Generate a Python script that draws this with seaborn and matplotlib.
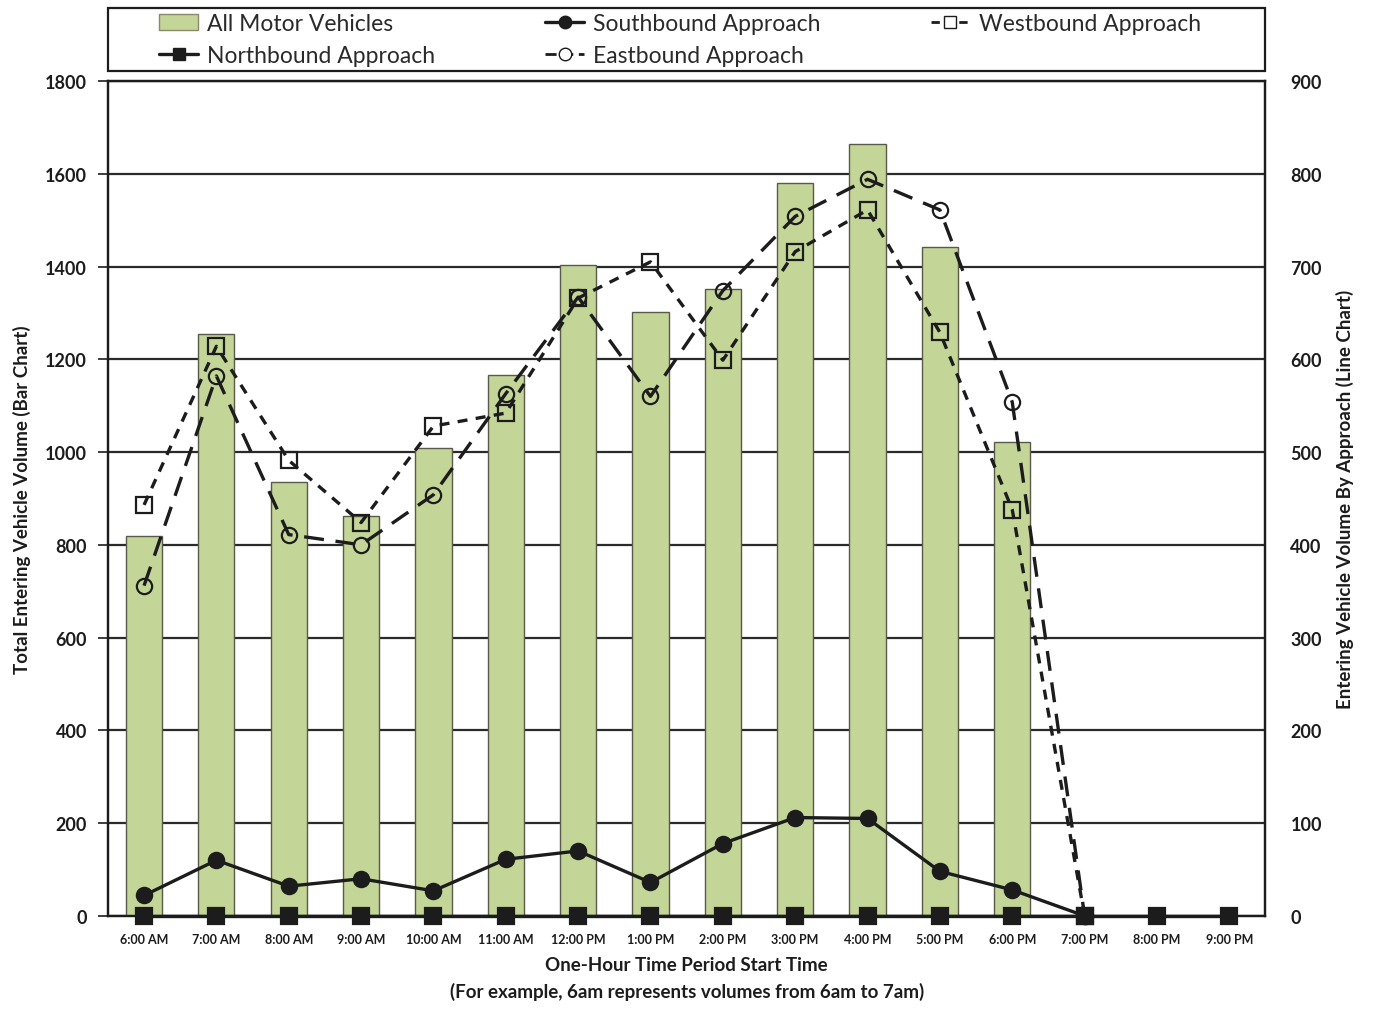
import numpy as np
import pandas as pd
import matplotlib
matplotlib.use("Agg")
import matplotlib.pyplot as plt
import seaborn as sns
from matplotlib.patches import Patch, Rectangle
from matplotlib.lines import Line2D

# Hourly volumes
hours = ["6:00 AM", "7:00 AM", "8:00 AM", "9:00 AM", "10:00 AM", "11:00 AM",
         "12:00 PM", "1:00 PM", "2:00 PM", "3:00 PM", "4:00 PM", "5:00 PM",
         "6:00 PM", "7:00 PM", "8:00 PM", "9:00 PM"]
all_vehicles = [820, 1255, 935, 862, 1009, 1166, 1403, 1302, 1352, 1580,
                1664, 1442, 1022, 0, 0, 0]
northbound = [0, 0, 0, 0, 0, 0, 0, 0, 0, 0, 0, 0, 0, 0, 0, 0]
southbound = [22, 60, 32, 40, 27, 61, 70, 36, 78, 106, 105, 48, 28, 0,
              np.nan, np.nan]
eastbound = [356, 582, 411, 400, 454, 563, 667, 560, 674, 754, 794, 761,
             554, 0, np.nan, np.nan]
westbound = [443, 614, 491, 424, 528, 542, 666, 705, 599, 716, 761, 629,
             438, 0, np.nan, np.nan]

sns.set_theme(style="white")
plt.rcParams['font.family'] = ['Lato', 'DejaVu Sans']

BAR_GREEN = "#c4d598"
INK = "#1c1c1c"

df = pd.DataFrame({
    "hour": hours,
    "pos": np.arange(len(hours)),
    "all": all_vehicles,
    "north": northbound,
    "south": southbound,
    "east": eastbound,
    "west": westbound,
})

fig = plt.figure(figsize=(13.83, 10.12), dpi=100)
ax = fig.add_axes([0.078, 0.094, 0.837, 0.825])

# Bar chart: total entering volume
sns.barplot(data=df, x="hour", y="all", color=BAR_GREEN, saturation=1,
            width=0.5, edgecolor="#5a5a4a", linewidth=1.0, ax=ax)
ax.set_ylim(0, 1800)
ax.set_yticks(range(0, 1801, 200))
ax.set_xlim(-0.5, len(hours) - 0.5)
ax.set_axisbelow(True)
ax.yaxis.grid(True, color="#2a2a2a", linewidth=1.6)
ax.tick_params(axis="y", which="both", left=True, length=7, width=1.2,
               color=INK, labelsize=13, pad=8)
ax.tick_params(axis="x", bottom=False, labelsize=9, pad=6)
for lbl in ax.get_yticklabels() + ax.get_xticklabels():
    lbl.set_fontweight("bold")
    lbl.set_color(INK)
ax.set_ylabel("Total Entering Vehicle Volume (Bar Chart)", fontsize=13.5,
              fontweight="bold", color=INK, labelpad=10)
ax.set_xlabel("One-Hour Time Period Start Time\n"
              "(For example, 6am represents volumes from 6am to 7am)",
              fontsize=13.5, fontweight="bold", color=INK, labelpad=8,
              linespacing=1.6)

# Line chart: volume by approach on the secondary axis
ax2 = ax.twinx()
line_kw = dict(ax=ax2, x="pos", color=INK, linewidth=2.4, errorbar=None,
               markersize=11, markeredgewidth=1.6, clip_on=False)
sns.lineplot(data=df, y="north", marker="s", markerfacecolor=INK,
             markeredgecolor=INK, zorder=5, **line_kw)
sns.lineplot(data=df, y="south", marker="o", markerfacecolor=INK,
             markeredgecolor=INK, zorder=4, **line_kw)
sns.lineplot(data=df, y="east", marker="o", markerfacecolor="none",
             markeredgecolor=INK, linestyle=(0, (6, 3.5)), zorder=3, **line_kw)
sns.lineplot(data=df, y="west", marker="s", markerfacecolor="none",
             markeredgecolor=INK, linestyle=(0, (3, 2.5)), zorder=3, **line_kw)
ax2.set_ylim(0, 900)
ax2.set_yticks(range(0, 901, 100))
ax2.set_xlim(-0.5, len(hours) - 0.5)
ax2.tick_params(axis="y", right=False, labelsize=13, pad=12)
for lbl in ax2.get_yticklabels():
    lbl.set_fontweight("bold")
    lbl.set_color(INK)
ax2.set_ylabel("Entering Vehicle Volume By Approach (Line Chart)",
               fontsize=13.5, fontweight="bold", color=INK, labelpad=10)

for a in (ax, ax2):
    for s in a.spines.values():
        s.set_color(INK)
        s.set_linewidth(1.6)

# Legend box above the plot area
fig.patches.append(Rectangle((0.078, 0.929), 0.837, 0.062,
                             transform=fig.transFigure, facecolor="white",
                             edgecolor=INK, linewidth=1.6))
handles = [
    Patch(facecolor=BAR_GREEN, edgecolor="#8a8a6a", label="All Motor Vehicles"),
    Line2D([], [], color=INK, lw=2.4, marker="s", markersize=9,
           markerfacecolor=INK, label="Northbound Approach"),
    Line2D([], [], color=INK, lw=2.4, marker="o", markersize=9,
           markerfacecolor=INK, label="Southbound Approach"),
    Line2D([], [], color=INK, lw=2.0, ls=(0, (4, 2)), marker="o", markersize=9,
           markerfacecolor="white", label="Eastbound Approach"),
    Line2D([], [], color=INK, lw=2.0, ls=(0, (3, 2)), marker="s", markersize=9,
           markerfacecolor="white", label="Westbound Approach"),
]
leg = fig.legend(handles=handles, ncol=3, loc="center left",
                 bbox_to_anchor=(0.115, 0.960), frameon=False, fontsize=16.5,
                 handlelength=1.7, handletextpad=0.4, borderaxespad=0,
                 labelspacing=0.45, borderpad=0, columnspacing=4.8)
for t in leg.get_texts():
    t.set_color("#2a2a2a")

fig.savefig("out.png", dpi=100)
